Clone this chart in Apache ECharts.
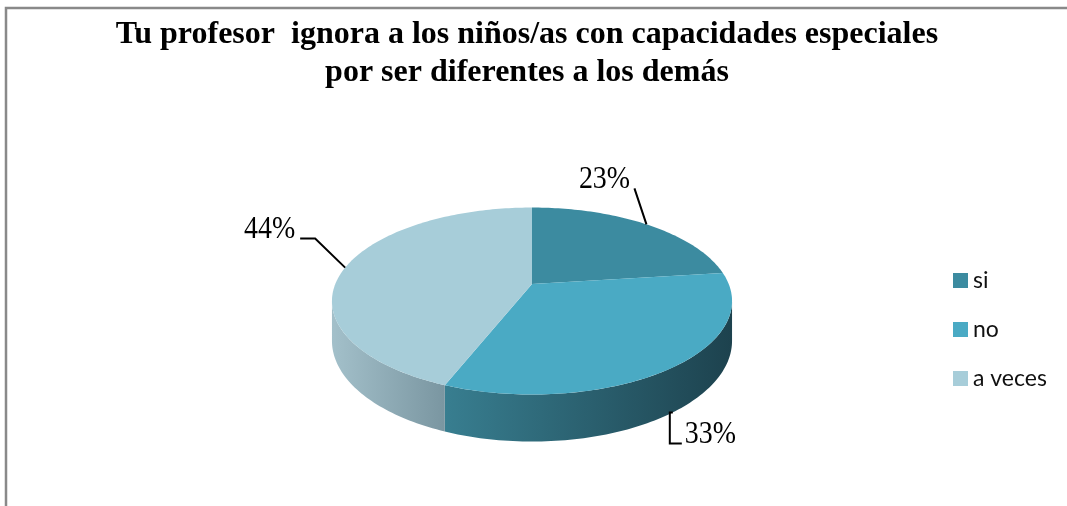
<!DOCTYPE html>
<html>
<head>
<meta charset="utf-8">
<script src="https://cdn.jsdelivr.net/npm/echarts@6/dist/echarts.min.js"></script>
<style>
html, body { margin: 0; padding: 0; background: #fff; }
#chart { width: 1067px; height: 506px; }
</style>
</head>
<body>
<div id="chart"></div>
<script>
// datos del grafico
var categories = ['si', 'no', 'a veces'];
var values = [23, 33, 44];
var titleLines = ['Tu profesor  ignora a los niños/as con capacidades especiales', 'por ser diferentes a los demás'];

var topColors = ['#3c8ba0', '#4aaac4', '#a7cdd9'];
var sideColors = [['#32788a', '#1f4a56'], ['#387e90', '#1d424e'], ['#a3c0ca', '#7a96a1']];

// geometria de la torta 3D (proyeccion con perspectiva)
var cx = 532, cy = 284;
var persp = 0.182;
var R = 196.7, S = 90.4, D = 38.5;

var total = values.reduce(function (a, b) { return a + b; }, 0);

function pt(t, h) {
    var f = 1 + persp * Math.cos(t);
    return [cx + R * Math.sin(t) / f, cy + (-S * Math.cos(t) + D * (h || 0)) / f];
}
function arc(a1, a2, h) {
    var pts = [];
    var n = Math.max(2, Math.ceil(Math.abs(a2 - a1) / 0.02));
    for (var i = 0; i <= n; i++) {
        pts.push(pt(a1 + (a2 - a1) * i / n, h));
    }
    return pts;
}

// desplazamientos de etiquetas (linea guia y texto)
var labelLayout = [
    { line: [[-12, -36]], text: [-42, -44], align: 'center' },
    { line: [[-3, 0], [-3, 31], [9, 31]], text: [12, 22], align: 'left' },
    { line: [[-30, -29], [-45, -29]], text: [-50, -38], align: 'right' }
];

function makeRender(idx) {
    return function (params, api) {
        var before = 0;
        for (var i = 0; i < idx; i++) before += values[i];
        var v = api.value(0);
        var a1 = before / total * Math.PI * 2;
        var a2 = (before + v) / total * Math.PI * 2;
        var children = [];

        // pared lateral visible (mitad frontal)
        var edge = Math.acos(-persp);
        var s1 = Math.max(a1, edge), s2 = Math.min(a2, Math.PI * 2 - edge);
        if (s2 > s1) {
            var wall = arc(s1, s2, 0).concat(arc(s2, s1, 1));
            children.push({
                type: 'polygon',
                shape: { points: wall },
                style: {
                    fill: {
                        type: 'linear', x: 0, y: 0, x2: 1, y2: 0,
                        colorStops: [{ offset: 0, color: sideColors[idx][0] }, { offset: 1, color: sideColors[idx][1] }]
                    }
                }
            });
        }

        // cara superior
        children.push({
            type: 'polygon',
            shape: { points: [[cx, cy]].concat(arc(a1, a2, 0)) },
            style: { fill: topColors[idx] }
        });

        // etiqueta
        var mid = (a1 + a2) / 2;
        var front = Math.cos(mid) < -0.5;
        var anchor = pt(mid, front ? 1 : 0);
        var lay = labelLayout[idx];
        var linePts = [anchor].concat(lay.line.map(function (d) { return [anchor[0] + d[0], anchor[1] + d[1]]; }));
        children.push({
            type: 'polyline',
            shape: { points: linePts },
            style: { stroke: '#000', lineWidth: 2, fill: null }
        });
        children.push({
            type: 'text',
            x: anchor[0] + lay.text[0],
            y: anchor[1] + lay.text[1],
            scaleX: 0.9,
            style: {
                text: Math.round(v / total * 100) + '%',
                font: '31px "Liberation Serif"',
                fill: '#000',
                textAlign: lay.align,
                textVerticalAlign: 'middle'
            }
        });

        return { type: 'group', children: children };
    };
}

var series = categories.map(function (name, i) {
    return {
        type: 'custom',
        name: name,
        coordinateSystem: 'none',
        data: [[values[i]]],
        itemStyle: { color: topColors[i] },
        renderItem: makeRender(i),
        silent: true
    };
});

var myChart = echarts.init(document.getElementById('chart'));

var option = {
    animation: false,
    color: topColors,
    legend: {
        orient: 'vertical',
        left: 948,
        top: 264,
        icon: 'rect',
        itemWidth: 15,
        itemHeight: 15,
        itemGap: 26,
        data: categories,
        textStyle: { fontFamily: 'Lato', fontSize: 23, color: '#111' }
    },
    graphic: [
        {
            type: 'rect',
            shape: { x: 6, y: 8, width: 1200, height: 700 },
            style: { fill: null, stroke: '#898989', lineWidth: 2.5 },
            silent: true
        },
        {
            type: 'text',
            x: 527,
            y: 16,
            style: {
                text: titleLines.join('\n'),
                font: 'bold 32px "Liberation Serif"',
                lineHeight: 38,
                fill: '#000',
                textAlign: 'center',
                textVerticalAlign: 'top'
            }
        }
    ],
    series: series
};

myChart.setOption(option);
</script>
</body>
</html>
